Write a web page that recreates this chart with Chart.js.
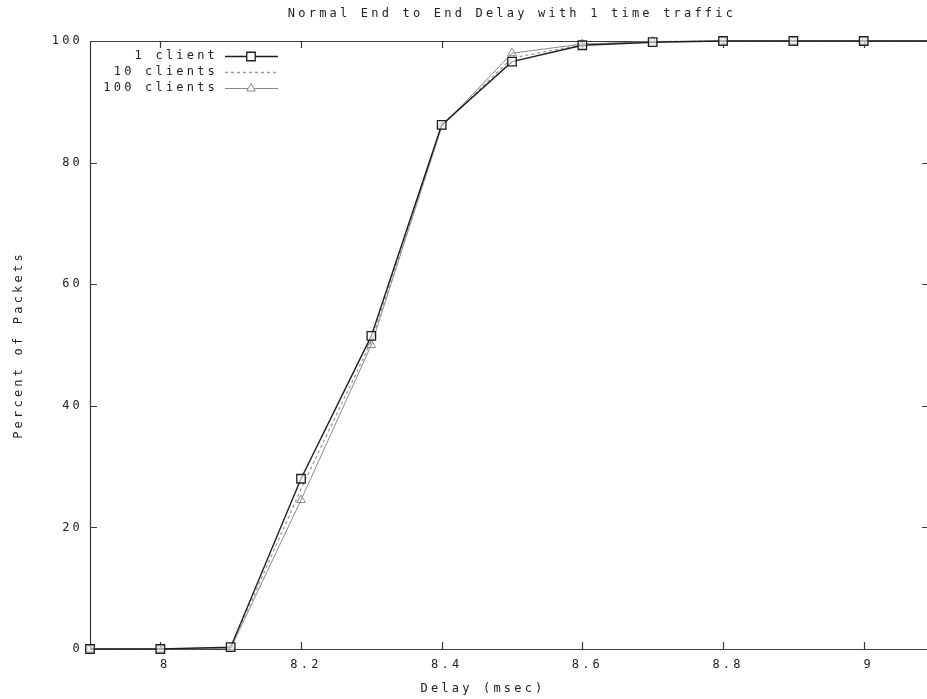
<!DOCTYPE html>
<html>
<head>
<meta charset="utf-8">
<script src="https://cdn.jsdelivr.net/npm/chart.js@4.4.1/dist/chart.umd.min.js"></script>
<style>
  html, body { margin: 0; padding: 0; background: #fff; }
  #wrap { width: 927px; height: 699px; }
</style>
</head>
<body>
<div id="wrap"><canvas id="c" width="927" height="699"></canvas></div>
<script>
// Delay bins (msec) and cumulative percent of packets per client count
const delays = [7.9, 8.0, 8.1, 8.2, 8.3, 8.4, 8.5, 8.6, 8.7, 8.8, 8.9, 9.0, 9.1];
const oneClient = [0, 0, 0.3, 28, 51.5, 86.2, 96.6, 99.3, 99.8, 100, 100, 100, 100];
const tenClients = [0, 0, 0.2, 26.3, 50.6, 86, 97.2, 99.4, 99.9, 100, 100, 100, 100];
const hundredClients = [0, 0, 0.1, 24.5, 50, 85.9, 98, 99.5, 99.9, 100, 100, 100, 100];

const xTickValues = [8, 8.2, 8.4, 8.6, 8.8, 9];
const yTickValues = [0, 20, 40, 60, 80, 100];

const seriesNames = ['1 client', '10 clients', '100 clients'];
const chartTitle = 'Normal End to End Delay with 1 time traffic';
const xTitle = 'Delay (msec)';
const yTitle = 'Percent of Packets';

const FONT = '"DejaVu Sans Mono", "Liberation Mono", monospace';
const SIZE = 12;
const SPACING = '3.2px';
const TEXT = '#222';
const FRAME = '#3a3a3a';

const toPoints = ys => delays.map((x, i) => ({ x: x, y: ys[i] }));

const plotDecor = {
  id: 'plotDecor',
  beforeDraw(chart) {
    const ctx = chart.ctx;
    ctx.save();
    ctx.fillStyle = '#fff';
    ctx.fillRect(0, 0, chart.width, chart.height);
    ctx.restore();
    ctx.letterSpacing = SPACING;
  },
  beforeDatasetsDraw(chart) {
    const ctx = chart.ctx;
    const a = chart.chartArea;
    const xs = chart.scales.x, ys = chart.scales.y;
    ctx.save();
    ctx.strokeStyle = FRAME;
    ctx.lineWidth = 1.2;
    // frame: top, left and bottom edges (the right edge lies past the canvas)
    ctx.beginPath();
    ctx.moveTo(a.right + 2, a.top + 0.5);
    ctx.lineTo(a.left + 0.5, a.top + 0.5);
    ctx.lineTo(a.left + 0.5, a.bottom + 0.5);
    ctx.lineTo(a.right + 2, a.bottom + 0.5);
    ctx.stroke();
    const t = 7;
    ctx.beginPath();
    xTickValues.forEach(v => {
      const px = Math.round(xs.getPixelForValue(v)) + 0.5;
      ctx.moveTo(px, a.bottom); ctx.lineTo(px, a.bottom - t);
      ctx.moveTo(px, a.top); ctx.lineTo(px, a.top + t);
    });
    yTickValues.forEach(v => {
      const py = Math.round(ys.getPixelForValue(v)) + 0.5;
      ctx.moveTo(a.left, py); ctx.lineTo(a.left + t, py);
      ctx.moveTo(a.right + 2, py); ctx.lineTo(a.right - 5, py);
    });
    ctx.stroke();
    ctx.restore();
  },
  afterDraw(chart) {
    const ctx = chart.ctx;
    ctx.save();
    ctx.fillStyle = TEXT;
    ctx.font = SIZE + 'px ' + FONT;
    ctx.letterSpacing = SPACING;
    ctx.textBaseline = 'middle';

    // title
    ctx.textAlign = 'center';
    ctx.fillText(chartTitle, 512, 14);

    // x axis title
    ctx.fillText(xTitle, 483, 689);

    // y axis title
    ctx.save();
    ctx.translate(19, 345);
    ctx.rotate(-Math.PI / 2);
    ctx.fillText(yTitle, 0, 0);
    ctx.restore();

    // key
    const rows = [56, 72, 88];
    const ds = chart.data.datasets;
    ctx.textAlign = 'right';
    rows.forEach((y, i) => {
      ctx.fillStyle = TEXT;
      ctx.fillText(seriesNames[i], 218, y);
      const d = ds[i];
      ctx.save();
      ctx.letterSpacing = '0px';
      ctx.strokeStyle = d.borderColor;
      ctx.lineWidth = d.borderWidth;
      ctx.setLineDash(d.borderDash || []);
      ctx.beginPath();
      ctx.moveTo(225, y + 0.5);
      ctx.lineTo(278, y + 0.5);
      ctx.stroke();
      ctx.setLineDash([]);
      if (d.pointRadius > 0) {
        ctx.fillStyle = '#fff';
        ctx.strokeStyle = d.pointBorderColor;
        ctx.lineWidth = d.pointBorderWidth;
        Chart.helpers.drawPoint(ctx, {
          pointStyle: d.pointStyle,
          radius: d.pointRadius,
          borderWidth: d.pointBorderWidth,
          rotation: 0
        }, 251, y + 0.5);
      }
      ctx.restore();
    });
    ctx.restore();
  }
};

new Chart(document.getElementById('c'), {
  type: 'line',
  data: {
    datasets: [
      {
        label: seriesNames[0],
        data: toPoints(oneClient),
        borderColor: '#1e1e1e',
        borderWidth: 1.4,
        pointStyle: 'rect',
        pointRadius: 6,
        pointBorderWidth: 1.3,
        pointBorderColor: '#1e1e1e',
        pointBackgroundColor: 'rgba(255,255,255,0.6)',
        clip: false,
        order: 1
      },
      {
        label: seriesNames[1],
        data: toPoints(tenClients),
        borderColor: '#9a9a9a',
        borderWidth: 1.3,
        borderDash: [3, 3],
        pointRadius: 0,
        clip: false,
        order: 2
      },
      {
        label: seriesNames[2],
        data: toPoints(hundredClients),
        borderColor: '#8a8a8a',
        borderWidth: 1,
        pointStyle: 'triangle',
        pointRadius: 5,
        pointBorderWidth: 1,
        pointBorderColor: '#8a8a8a',
        pointBackgroundColor: 'rgba(255,255,255,0)',
        clip: false,
        order: 3
      }
    ]
  },
  options: {
    responsive: false,
    animation: false,
    events: [],
    layout: { autoPadding: false, padding: { top: 41, left: 0, right: 0, bottom: 0 } },
    plugins: {
      legend: { display: false },
      title: { display: false },
      tooltip: { enabled: false }
    },
    elements: { line: { tension: 0 } },
    scales: {
      x: {
        type: 'linear',
        min: 7.9,
        max: 9.09,
        afterBuildTicks: scale => { scale.ticks = xTickValues.map(v => ({ value: v })); },
        afterFit: scale => {
          scale.height = 50;
          scale.paddingLeft = 0;
          scale.paddingRight = 0;
        },
        grid: { display: false, drawTicks: false },
        border: { display: false },
        ticks: {
          color: TEXT,
          font: { family: FONT, size: SIZE },
          padding: 9,
          labelOffset: 5,
          maxRotation: 0,
          autoSkip: false,
          callback: v => String(v)
        }
      },
      y: {
        type: 'linear',
        min: 0,
        max: 100,
        afterBuildTicks: scale => { scale.ticks = yTickValues.map(v => ({ value: v })); },
        afterFit: scale => {
          scale.width = 90;
          scale.paddingTop = 0;
          scale.paddingBottom = 0;
        },
        grid: { display: false, drawTicks: false },
        border: { display: false },
        ticks: {
          color: TEXT,
          font: { family: FONT, size: SIZE },
          padding: 7,
          callback: v => String(v)
        }
      }
    }
  },
  plugins: [plotDecor]
});
</script>
</body>
</html>
